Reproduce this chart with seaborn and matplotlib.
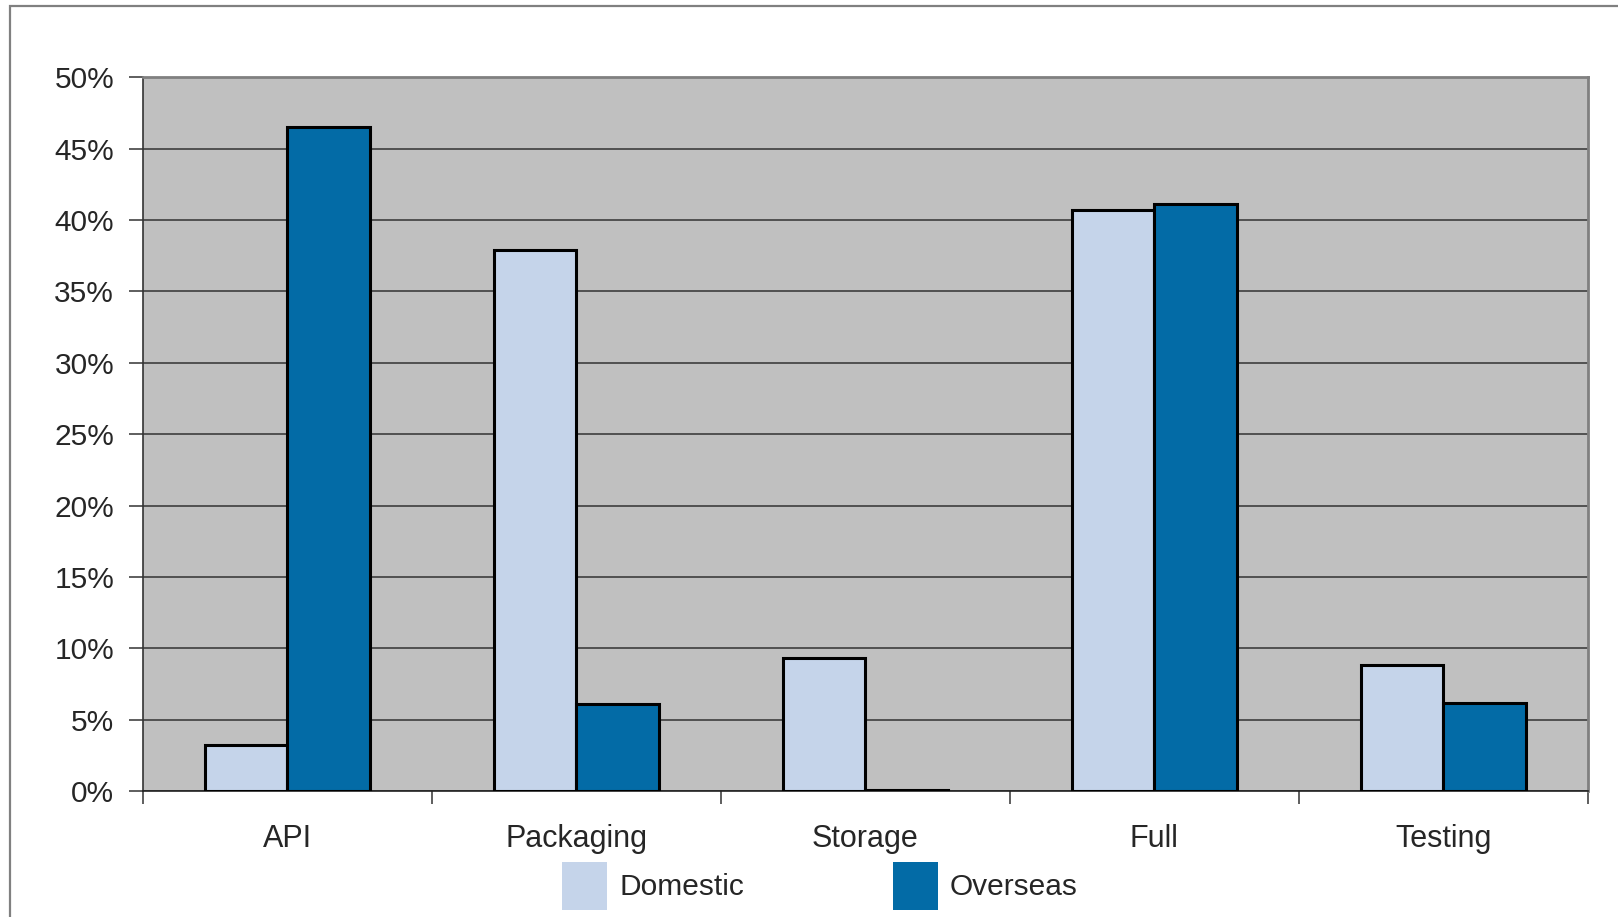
import matplotlib
matplotlib.use("Agg")
import matplotlib.pyplot as plt
from matplotlib.patches import Patch, Rectangle
from matplotlib.ticker import FuncFormatter, FixedLocator
import seaborn as sns
import pandas as pd

# Share of spending by activity (percent)
categories = ["API", "Packaging", "Storage", "Full", "Testing"]
domestic = [3.2, 37.9, 9.3, 40.7, 8.85]
overseas = [46.5, 6.1, 0.1, 41.1, 6.2]
series_names = ["Domestic", "Overseas"]
colors = ["#C5D4EA", "#036BA6"]

df = pd.DataFrame({
    "category": categories * 2,
    "share": domestic + overseas,
    "series": [series_names[0]] * len(categories) + [series_names[1]] * len(categories),
})

sns.set_style("white", {"axes.facecolor": "#C0C0C0"})
plt.rcParams["font.family"] = ["Liberation Sans", "DejaVu Sans"]

W, H, DPI = 1618, 917, 100
fig = plt.figure(figsize=(W / DPI, H / DPI), dpi=DPI)
fig.patch.set_facecolor("white")
ax = fig.add_axes([142.7 / W, 1 - 791 / H, (1588 - 142.7) / W, (791 - 77.3) / H])

sns.barplot(data=df, x="category", y="share", hue="series", order=categories,
            hue_order=series_names, palette=colors, width=0.57, gap=0,
            edgecolor="black", linewidth=2.2, saturation=1, ax=ax, legend=False,
            zorder=3)

ax.set_ylim(0, 50)
ax.set_xlim(-0.5, len(categories) - 0.5)
ax.set_yticks(range(0, 51, 5))
ax.yaxis.set_major_formatter(FuncFormatter(lambda v, _: f"{v:.0f}%"))
ax.yaxis.grid(True, color="#333333", linewidth=1.1, zorder=1)
ax.set_axisbelow(True)
ax.set_xlabel("")
ax.set_ylabel("")

# Category labels centred, tick marks at the group boundaries
ax.tick_params(axis="x", which="major", length=0, pad=23.5, labelsize=22)
ax.xaxis.set_minor_locator(FixedLocator([i - 0.5 for i in range(len(categories) + 1)]))
ax.tick_params(axis="x", which="minor", length=9, width=1.1, color="#333333", direction="out")
ax.tick_params(axis="y", length=10, width=1.1, color="#333333", direction="out",
               pad=10.5, labelsize=21.5)
ax.tick_params(left=True, bottom=False, which="major")
ax.tick_params(axis="x", which="minor", bottom=True)

for side in ["top", "right"]:
    ax.spines[side].set_color("#808080")
    ax.spines[side].set_linewidth(2)
ax.spines["left"].set_color("#333333")
ax.spines["left"].set_linewidth(1.2)
ax.spines["bottom"].set_color("#222222")
ax.spines["bottom"].set_linewidth(1.2)

handles = [Patch(facecolor=c, edgecolor="none", label=n) for c, n in zip(colors, series_names)]
fig.legend(handles=handles, loc="center", bbox_to_anchor=(820 / W, 1 - 886 / H),
           ncol=2, frameon=False, fontsize=21.5, handlelength=1.5, handleheight=2.07,
           handletextpad=0.4, columnspacing=5.0, borderpad=0)

# Outer chart frame
fig.patches.append(Rectangle((10 / W, -0.1), 1.5, 1 - 6 / H + 0.1, transform=fig.transFigure,
                             fill=False, edgecolor="#808080", linewidth=1.6))

fig.savefig("out.png", dpi=DPI)
